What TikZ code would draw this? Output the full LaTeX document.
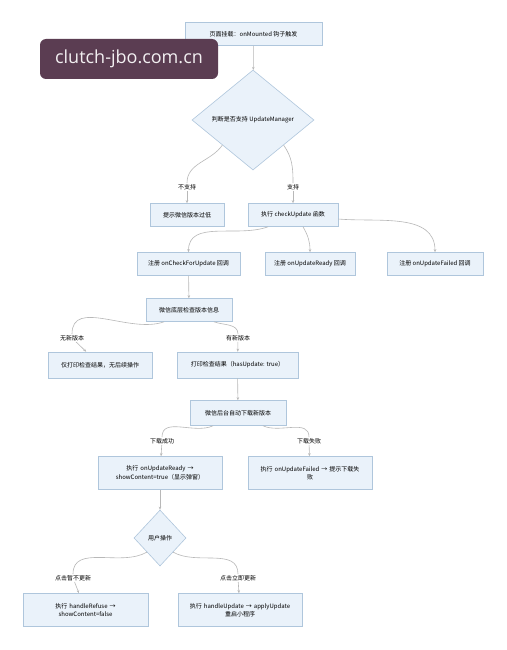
\documentclass[tikz,border=0pt]{standalone}
\usepackage{fontspec}
\setmainfont{Noto Sans CJK SC}
\newfontfamily\markfont{Open Sans}
\usetikzlibrary{shapes.geometric,arrows.meta,positioning}

\definecolor{boxfill}{HTML}{EAF2FA}
\definecolor{boxline}{HTML}{AFC6DC}
\definecolor{flowline}{HTML}{B8B8B8}
\definecolor{markbg}{HTML}{5B3D52}

\tikzset{
  stepbox/.style={draw=boxline, fill=boxfill, line width=0.6pt, minimum height=23pt,
    align=center, inner sep=2pt, font=\fontsize{6}{8.5}\selectfont},
  decide/.style={diamond, draw=boxline, fill=boxfill, line width=0.6pt, inner sep=0pt,
    align=center, font=\fontsize{6}{8}\selectfont},
  flow/.style={draw=flowline, line width=0.6pt},
  tip/.style={flow, -{Stealth[length=3pt,width=2.5pt]}},
  lbl/.style={font=\fontsize{6}{7}\selectfont, fill=white, inner sep=1pt}
}

\begin{document}
\begin{tikzpicture}[x=1pt,y=-1pt]
    \useasboundingbox[fill=white] (0,0) rectangle (506,650);

    % steps from the top
    \node[stepbox, minimum width=137pt] (mount) at (253.5,34) {页面挂载：onMounted 钩子触发};
    \node[decide, minimum width=122pt, minimum height=100pt] (support) at (253,120) {判断是否支持 UpdateManager};
    \node[stepbox, minimum width=74pt] (old) at (187,215) {提示微信版本过低};
    \node[stepbox, minimum width=90pt] (run) at (293,215) {执行 checkUpdate 函数};

    % the three callbacks
    \node[stepbox, minimum width=103pt] (regcheck) at (188.5,264) {注册 onCheckForUpdate 回调};
    \node[stepbox, minimum width=90pt] (regready) at (310,264) {注册 onUpdateReady 回调};
    \node[stepbox, minimum width=96pt] (regfail) at (435,264) {注册 onUpdateFailed 回调};

    \node[stepbox, minimum width=86pt] (query) at (189,310) {微信底层检查版本信息};
    \node[stepbox, minimum width=104pt, minimum height=26pt] (nonew) at (100,365) {仅打印检查结果，无后续操作};
    \node[stepbox, minimum width=121pt, minimum height=26pt] (hasnew) at (237.5,365) {打印检查结果（hasUpdate: true）};
    \node[stepbox, minimum width=96pt, minimum height=25pt] (download) at (238,413) {微信后台自动下载新版本};

    \node[stepbox, minimum width=124pt, minimum height=33pt, text width=112pt] (ready) at (160,473)
        {执行 onUpdateReady →\\ showContent=true（显示弹窗）};
    \node[stepbox, minimum width=124pt, minimum height=33pt, text width=112pt] (failed) at (310,473)
        {执行 onUpdateFailed → 提示下载失\\败};

    \node[decide, minimum width=52pt, minimum height=56pt] (choice) at (160,538) {用户操作};
    \node[stepbox, minimum width=125pt, minimum height=33pt, text width=112pt] (refuse) at (85.5,610)
        {执行 handleRefuse →\\ showContent=false};
    \node[stepbox, minimum width=124pt, minimum height=33pt, text width=112pt] (apply) at (240,610)
        {执行 handleUpdate → applyUpdate\\ 重启小程序};

    % branch labels
    \node[lbl] (nosup) at (187,187) {不支持};
    \node[lbl] (yessup) at (293,187) {支持};
    \node[lbl] (nover) at (72,338) {无新版本};
    \node[lbl] (newver) at (238,338) {有新版本};
    \node[lbl] (dlok) at (162,441) {下载成功};
    \node[lbl] (dlbad) at (309,441) {下载失败};
    \node[lbl] (later) at (73,578) {点击暂不更新};
    \node[lbl] (now) at (238,578) {点击立即更新};

    % connectors
    \draw[tip] (mount) -- (support);
    \draw[flow] (support.south west) to[out=-125,in=90] (nosup);
    \draw[tip] (nosup) -- (old);
    \draw[flow] (support.south east) to[out=-55,in=90] (yessup);
    \draw[tip] (yessup) -- (run);

    \draw[tip] ([xshift=-25pt]run.south) to[out=-160,in=90] (regcheck.north);
    \draw[tip] ([xshift=10pt]run.south) to[out=-60,in=90] (regready.north);
    \draw[tip] ([yshift=-4pt]run.east) to[out=-5,in=90] (regfail.north);

    \draw[tip] (regcheck) -- (query);
    \draw[flow] ([xshift=-25pt]query.south) to[out=-160,in=90] (nover);
    \draw[tip] (nover) -- (nonew);
    \draw[flow] ([xshift=25pt]query.south) to[out=-20,in=90] (newver);
    \draw[tip] (newver) -- (hasnew);

    \draw[tip] (hasnew) -- (download);
    \draw[flow] ([xshift=-25pt]download.south) to[out=-155,in=90] (dlok);
    \draw[tip] (dlok) -- (ready);
    \draw[flow] ([xshift=25pt]download.south) to[out=-25,in=90] (dlbad);
    \draw[tip] (dlbad) -- (failed);

    \draw[tip] (ready) -- (choice);
    \draw[flow] (choice.south west) to[out=-150,in=90] (later);
    \draw[tip] (later) -- (refuse);
    \draw[flow] (choice.south east) to[out=-30,in=90] (now);
    \draw[tip] (now) -- (apply);

    % watermark
    \node[fill=markbg, rounded corners=6pt, minimum width=178pt, minimum height=40pt,
          text=white!92!markbg, font=\markfont\fontsize{18}{20}\selectfont] (mark) at (129,59) {clutch-jbo.com.cn};
\end{tikzpicture}
\end{document}
